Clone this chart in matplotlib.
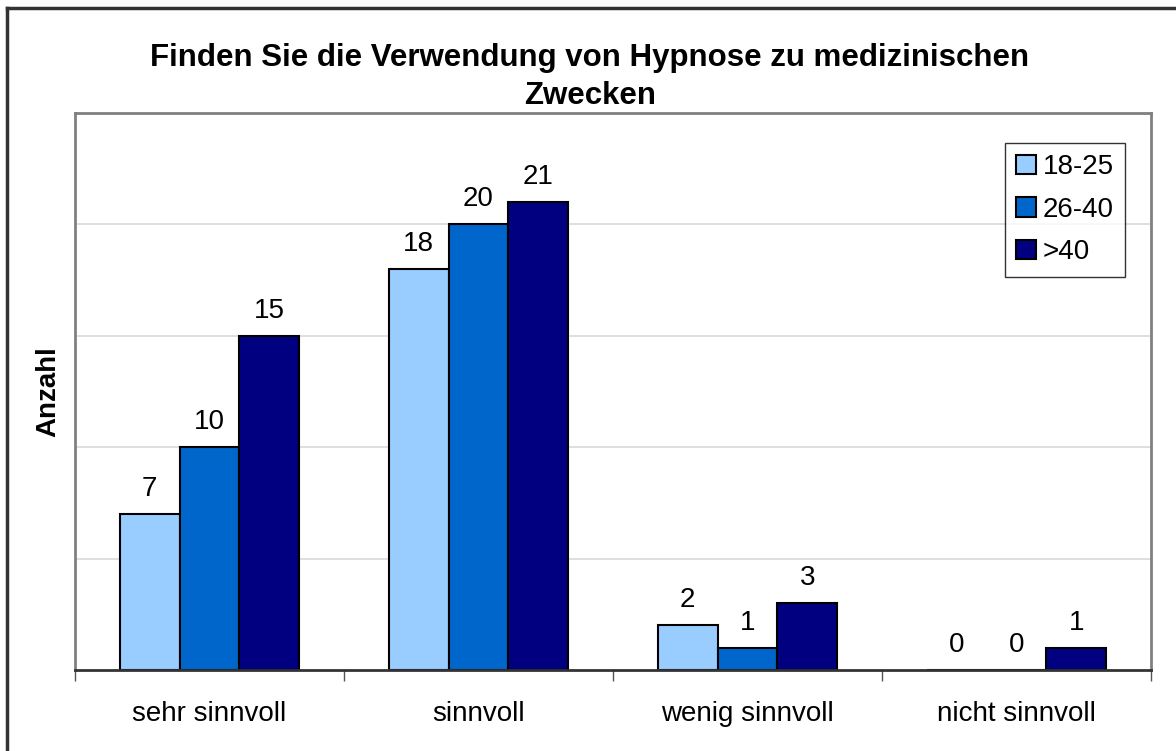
import matplotlib
matplotlib.use("Agg")
import matplotlib.pyplot as plt
import numpy as np
from matplotlib.lines import Line2D

categories = ["sehr sinnvoll", "sinnvoll", "wenig sinnvoll", "nicht sinnvoll"]
series_names = ["18-25", "26-40", ">40"]
values_18_25 = [7, 18, 2, 0]
values_26_40 = [10, 20, 1, 0]
values_40plus = [15, 21, 3, 1]
colors = ["#99CCFF", "#0066CC", "#000080"]

plt.rcParams['font.family'] = ['Liberation Sans', 'DejaVu Sans']

W, H = 1176, 751
fig = plt.figure(figsize=(W/100, H/100), dpi=100)
L, R, T, B = 75, 1151, 113, 670
ax = fig.add_axes([L/W, 1-B/H, (R-L)/W, (B-T)/H])

x = np.arange(len(categories))
bw = 0.223
all_vals = [values_18_25, values_26_40, values_40plus]
for i, (vals, c, n) in enumerate(zip(all_vals, colors, series_names)):
    ax.bar(x + (i-1)*bw, vals, bw, color=c, edgecolor="black", linewidth=1.5, label=n, zorder=3)
    for xi, v in zip(x + (i-1)*bw, vals):
        ax.annotate(str(v), (xi, v), xytext=(0, 18), textcoords="offset points",
                    ha="center", va="center", fontsize=20)

ax.set_xlim(-0.5, len(categories)-0.5)
ax.set_ylim(0, 25)
ax.set_yticks([5, 10, 15, 20])
ax.yaxis.grid(True, color="#d9d9d9", linewidth=1.2, zorder=0)
ax.tick_params(axis="y", length=0, labelleft=False)
ax.set_xticks(np.arange(-0.5, len(categories)), minor=False)
ax.set_xticks(x, minor=True)
ax.set_xticklabels([])
ax.set_xticklabels(categories, minor=True, fontsize=20)
ax.tick_params(axis="x", which="major", length=8, width=1, color="#555555", direction="out")
ax.tick_params(axis="x", which="minor", length=0, pad=22)
for s in ["top", "left", "right"]:
    ax.spines[s].set_color("#808080")
    ax.spines[s].set_linewidth(2)
ax.spines["bottom"].set_color("#333333")
ax.spines["bottom"].set_linewidth(2)
ax.spines["bottom"].set_zorder(5)

ax.set_ylabel("Anzahl", fontsize=20, fontweight="bold", labelpad=10)

leg = ax.legend(loc="upper right", bbox_to_anchor=(1125/W, 1-143/H), bbox_transform=fig.transFigure,
                fontsize=20, frameon=True, fancybox=False, edgecolor="black",
                handlelength=0.7, handleheight=0.7, handletextpad=0.25, labelspacing=0.6,
                borderpad=0.4, borderaxespad=0)
leg.get_frame().set_linewidth(1)

fig.text(590/W, 1-58/H, "Finden Sie die Verwendung von Hypnose zu medizinischen", ha="center", va="center",
         fontsize=22.5, fontweight="bold")
fig.text(590/W, 1-96/H, "Zwecken", ha="center", va="center", fontsize=22.5, fontweight="bold")

fig.add_artist(Line2D([7/W, 7/W], [0, 1-8/H], transform=fig.transFigure, color="#333333", linewidth=2.5))
fig.add_artist(Line2D([7/W, 1], [1-8/H, 1-8/H], transform=fig.transFigure, color="#333333", linewidth=2.5))

fig.savefig("out.png", dpi=100)
